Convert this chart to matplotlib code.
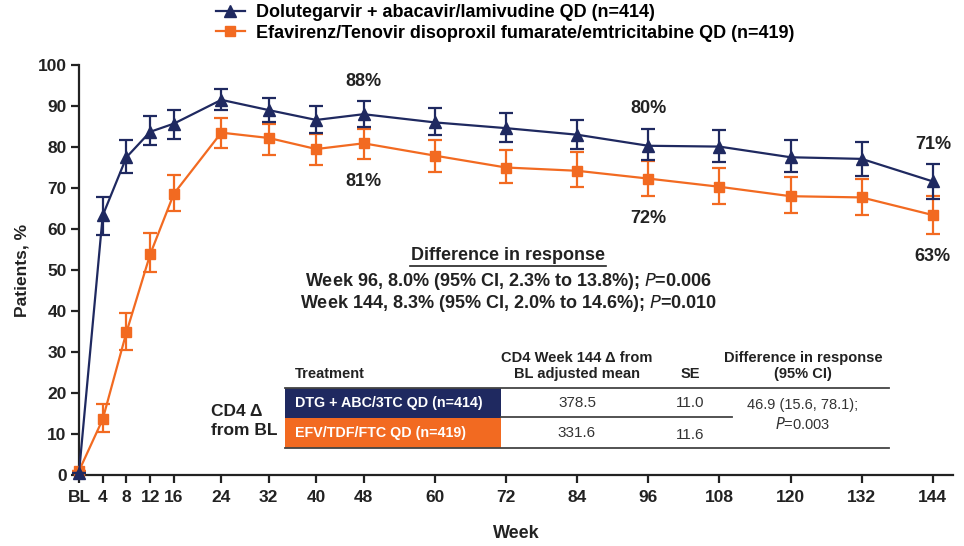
import matplotlib
matplotlib.use("Agg")
import matplotlib.pyplot as plt
import numpy as np
from matplotlib.patches import Rectangle
from matplotlib.lines import Line2D

plt.rcParams['font.family'] = ['Liberation Sans', 'DejaVu Sans']

# data
weeks = [0, 4, 8, 12, 16, 24, 32, 40, 48, 60, 72, 84, 96, 108, 120, 132, 144]
tick_labels = ['BL', '4', '8', '12', '16', '24', '32', '40', '48', '60', '72', '84',
               '96', '108', '120', '132', '144']

dtg = [0.5, 63.3, 77.5, 83.7, 85.7, 91.5, 89.0, 86.6, 88.0, 86.0, 84.6, 83.0,
       80.3, 80.1, 77.5, 77.1, 71.6]
dtg_lo = [0.5, 58.6, 73.7, 80.5, 82.0, 89.0, 86.0, 83.4, 85.0, 83.0, 81.3, 79.4,
          76.8, 76.4, 73.8, 73.0, 67.3]
dtg_hi = [0.5, 67.7, 81.7, 87.6, 89.0, 94.2, 92.0, 90.0, 91.2, 89.6, 88.2, 86.5,
          84.5, 84.1, 81.8, 81.1, 75.8]

efv = [1.0, 13.6, 34.8, 53.8, 68.6, 83.5, 82.2, 79.5, 80.9, 77.9, 75.0, 74.2,
       72.3, 70.3, 68.0, 67.7, 63.4]
efv_lo = [1.0, 10.5, 30.4, 49.6, 64.3, 79.8, 78.1, 75.7, 77.1, 74.0, 71.1, 70.3,
          68.1, 66.1, 63.8, 63.4, 58.8]
efv_hi = [1.0, 17.3, 39.5, 59.1, 73.2, 87.1, 85.7, 83.2, 84.4, 81.8, 79.3, 78.7,
          76.6, 74.9, 72.8, 72.3, 68.1]

# labelled values (dtg above, efv below)
labels_dtg = [(48, '88%'), (96, '80%'), (144, '71%')]
labels_efv = [(48, '81%'), (96, '72%'), (144, '63%')]

dtg_name = 'Dolutegarvir + abacavir/lamivudine QD (n=414)'
efv_name = 'Efavirenz/Tenovir disoproxil fumarate/emtricitabine QD (n=419)'

table_header = ['Treatment', 'CD4 Week 144 \u0394 from\nBL adjusted mean', 'SE',
                'Difference in response\n(95% CI)']
table_treat = ['DTG + ABC/3TC QD (n=414)', 'EFV/TDF/FTC QD (n=419)']
table_mean = ['378.5', '331.6']
table_se = ['11.0', '11.6']
table_diff = '46.9 (15.6, 78.1);\n$\\it{P}$=0.003'

navy = '#1f2960'
orange = '#f26a21'
ink = '#222222'
W, H = 964, 546

fig = plt.figure(figsize=(W / 100, H / 100), dpi=100)
ax = fig.add_axes([79 / W, 1 - 475 / H, (953 - 79) / W, (475 - 65) / H])


def px(x, y):
    return x / W, 1 - y / H


w = np.array(weeks)
e1 = ax.errorbar(w, efv, yerr=[np.array(efv) - efv_lo, np.array(efv_hi) - efv],
                 color=orange, marker='s', ms=7.5, lw=1.6, elinewidth=1.6,
                 capsize=5, capthick=1.6, clip_on=False, zorder=3)
e2 = ax.errorbar(w, dtg, yerr=[np.array(dtg) - dtg_lo, np.array(dtg_hi) - dtg],
                 color=navy, marker='^', ms=9, lw=1.6, elinewidth=1.6,
                 capsize=5, capthick=1.6, clip_on=False, zorder=4)
for e in (e1, e2):
    for c in list(e[1]) + list(e[2]):
        c.set_clip_on(False)

ax.set_xlim(0, 147.4)
ax.set_ylim(0, 100)
ax.set_xticks(weeks)
ax.set_xticklabels(tick_labels)
ax.set_yticks(range(0, 101, 10))
for s in ['top', 'right']:
    ax.spines[s].set_visible(False)
for s in ['left', 'bottom']:
    ax.spines[s].set_linewidth(1.6)
    ax.spines[s].set_color(ink)
ax.tick_params(length=6, width=1.6, color=ink, labelsize=12.5, pad=3)
ax.tick_params(axis='x', pad=5)
for t in ax.get_xticklabels() + ax.get_yticklabels():
    t.set_fontweight('bold')
    t.set_color(ink)
ax.set_ylabel('Patients, %', fontsize=12.5, fontweight='bold', labelpad=6, color=ink)
ax.set_xlabel('Week', fontsize=13, fontweight='bold', labelpad=14, color=ink)

# percentage labels
for wk, txt in labels_dtg:
    v = dtg_hi[weeks.index(wk)]
    ax.annotate(txt, (wk, v), xytext=(0, 8), textcoords='offset points',
                ha='center', va='bottom', fontsize=13, fontweight='bold', color=ink)
for wk, txt in labels_efv:
    v = efv_lo[weeks.index(wk)]
    ax.annotate(txt, (wk, v), xytext=(0, -10), textcoords='offset points',
                ha='center', va='top', fontsize=13, fontweight='bold', color=ink)

# difference in response text
fig.text(*px(508, 256), 'Difference in response', ha='center', va='center',
         fontsize=13, fontweight='bold', color=ink)
fig.add_artist(Line2D([px(410, 0)[0], px(606, 0)[0]], [px(0, 266)[1]] * 2,
                      color=ink, lw=1.2))
fig.text(*px(508, 281), 'Week 96, 8.0% (95% CI, 2.3% to 13.8%); $\\bf{\\it{P}}$=0.006',
         ha='center', va='center', fontsize=13, fontweight='bold', color=ink)
fig.text(*px(508, 304), 'Week 144, 8.3% (95% CI, 2.0% to 14.6%); $\\bf{\\it{P}}$=0.010',
         ha='center', va='center', fontsize=13, fontweight='bold', color=ink)

# CD4 table
fig.text(*px(211, 421), 'CD4 \u0394\nfrom BL', ha='left', va='center', fontsize=12.5,
         fontweight='bold', color=ink, linespacing=1.3)
fig.text(*px(295, 374), table_header[0], ha='left', va='center', fontsize=10.5,
         fontweight='bold', color=ink)
fig.text(*px(577, 366), table_header[1], ha='center', va='center', fontsize=10.5,
         fontweight='bold', color=ink, linespacing=1.25)
fig.text(*px(690, 374), table_header[2], ha='center', va='center', fontsize=10.5,
         fontweight='bold', color=ink)
fig.text(*px(803, 366), table_header[3], ha='center', va='center', fontsize=10.5,
         fontweight='bold', color=ink, linespacing=1.25)

row_top = [388, 418]
row_h = 30
for i, (name, col) in enumerate(zip(table_treat, [navy, orange])):
    x0, y0 = px(285, row_top[i] + row_h)
    fig.add_artist(Rectangle((x0, y0), 216 / W, row_h / H, transform=fig.transFigure,
                             facecolor=col, edgecolor='none'))
    fig.text(*px(295, row_top[i] + row_h / 2), name, ha='left', va='center',
             fontsize=10.3, fontweight='bold', color='white')
    fig.text(*px(577, row_top[i] + row_h / 2), table_mean[i], ha='center', va='center',
             fontsize=11, color='#333333')
    fig.text(*px(690, row_top[i] + row_h / 2 + (2 if i else 0)), table_se[i], ha='center',
             va='center', fontsize=11, color='#333333')
fig.text(*px(803, 415), table_diff, ha='center', va='center', fontsize=10.5,
         color='#333333', linespacing=1.3)

for (xa, xb, y) in [(285, 889, 388), (501, 732, 417), (285, 889, 448)]:
    fig.add_artist(Line2D([xa / W, xb / W], [1 - y / H] * 2, color='#444444', lw=1.3))

# legend with plain line + marker handles
h_dtg = Line2D([], [], color=navy, marker='^', ms=9, lw=1.6)
h_efv = Line2D([], [], color=orange, marker='s', ms=7.5, lw=1.6)
fig.legend(handles=[h_dtg, h_efv], labels=[dtg_name, efv_name], loc='upper left',
           bbox_to_anchor=px(216, 4), frameon=False,
           prop={'weight': 'bold', 'size': 13}, handlelength=1.6,
           handletextpad=0.6, labelspacing=0.2, borderaxespad=0, borderpad=0)

fig.savefig('out.png', dpi=100)
